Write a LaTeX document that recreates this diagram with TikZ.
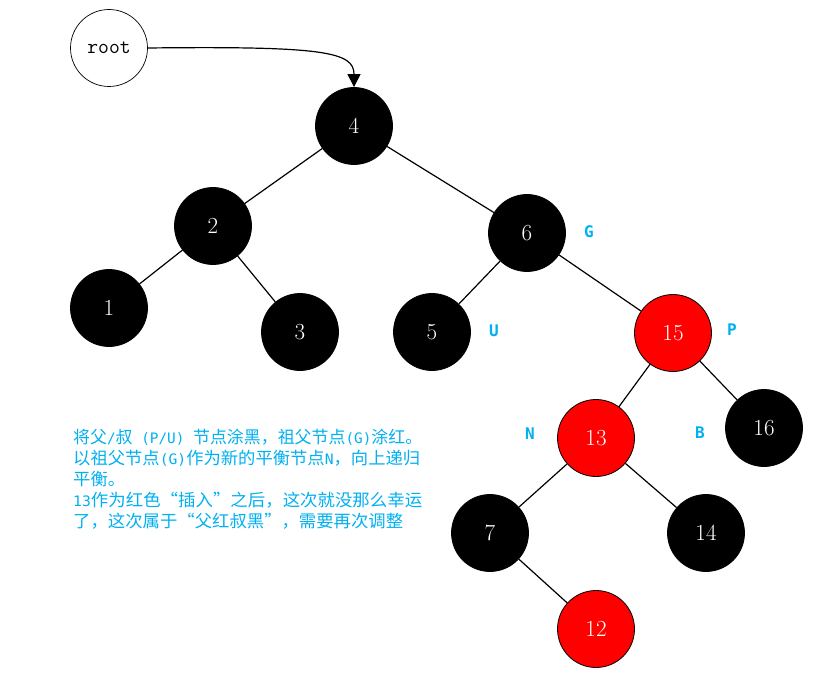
\documentclass[tikz,border=0pt]{standalone}
\usepackage{fontspec}
\usepackage{graphicx}
\usetikzlibrary{arrows.meta}
\newfontfamily\cjk{Noto Sans CJK SC}
\newfontfamily\lblfont{DejaVu Sans Mono}
\definecolor{note}{RGB}{0,176,240}
\definecolor{rbred}{RGB}{255,0,0}
\newcommand{\lat}[1]{{\lblfont\fontsize{14.4}{14.4}\selectfont #1}}
\newcommand{\fitline}[2]{\resizebox{#1}{\height}{#2}}
\tikzset{
  rbnode/.style={circle, minimum size=77pt, inner sep=0pt, line width=0.8pt, draw=black,
    text=white, font=\fontsize{23}{23}\selectfont},
  blk/.style={rbnode, fill=black},
  red/.style={rbnode, fill=rbred},
  rootnode/.style={circle, minimum size=77pt, inner sep=0pt, line width=0.7pt, draw=black,
    fill=white, font=\ttfamily\fontsize{21}{21}\selectfont},
  edge/.style={line width=1.2pt},
  tag/.style={text=note, font=\lblfont\bfseries\fontsize{16}{16}\selectfont},
  notetext/.style={anchor=west, text=note, inner sep=0pt, font=\cjk\fontsize{17}{20}\selectfont}
}
\begin{document}
\begin{tikzpicture}[x=1pt,y=-1pt]
\useasboundingbox (0,0) rectangle (813,676);
\node[rootnode] (root) at (109,48) {root};
\node[blk] (n4) at (354,126) {4};
\node[blk] (n2) at (213,226) {2};
\node[blk] (n6) at (527,233) {6};
\node[blk] (n1) at (109,308) {1};
\node[blk] (n3) at (300,332) {3};
\node[blk] (n5) at (432,332) {5};
\node[red] (n15) at (673,333) {15};
\node[red] (n13) at (596,438) {13};
\node[blk] (n16) at (764,428) {16};
\node[blk] (n7) at (490,533) {7};
\node[blk] (n14) at (706,533) {14};
\node[red] (n12) at (596,629) {12};

\draw[edge] (n4) -- (n2);
\draw[edge] (n4) -- (n6);
\draw[edge] (n2) -- (n1);
\draw[edge] (n2) -- (n3);
\draw[edge] (n6) -- (n5);
\draw[edge] (n6) -- (n15);
\draw[edge] (n15) -- (n13);
\draw[edge] (n15) -- (n16);
\draw[edge] (n13) -- (n7);
\draw[edge] (n13) -- (n14);
\draw[edge] (n7) -- (n12);

\draw[line width=1.2pt, -{Triangle[length=13pt,width=13pt]}]
  (root.east) .. controls (325,46) and (354,52) .. (n4.north);

\node[tag] (lg) at (589,232) {G};
\node[tag] (lu) at (494,331) {U};
\node[tag] (lp) at (732,330) {P};
\node[tag] (ln) at (530,434) {N};
\node[tag] (lb) at (700,433) {B};

\node[notetext] (t1) at (73,437) {\fitline{349pt}{将父\lat{/}叔\lat{ (P/U) }节点涂黑，祖父节点\lat{(G)}涂红。}};
\node[notetext] (t2) at (73,458) {\fitline{347pt}{以祖父节点\lat{(G)}作为新的平衡节点\lat{N}，向上递归}};
\node[notetext] (t3) at (73,479) {\fitline{52pt}{平衡。}};
\node[notetext] (t4) at (73,500) {\fitline{349pt}{\lat{13}作为红色“插入”之后，这次就没那么幸运}};
\node[notetext] (t5) at (73,521) {\fitline{330pt}{了，这次属于“父红叔黑”，需要再次调整}};
\end{tikzpicture}
\end{document}
